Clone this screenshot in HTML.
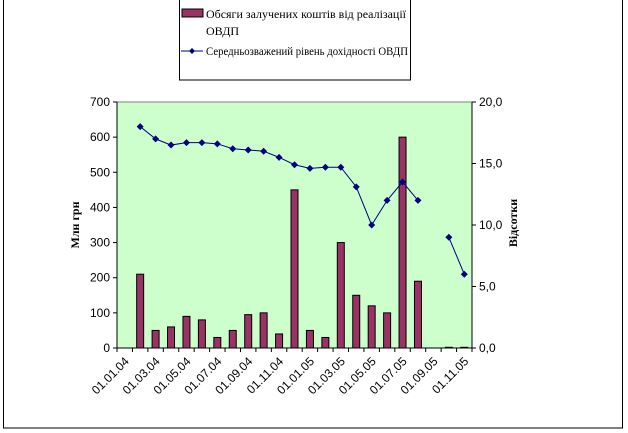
<!DOCTYPE html>
<html><head><meta charset="utf-8"><style>
html,body{margin:0;padding:0;background:#fff;}
svg{display:block;font-family:"Liberation Sans",sans-serif;}
</style></head><body>
<svg id="c" width="628" height="433" xmlns="http://www.w3.org/2000/svg">
<rect x="3.5" y="-2" width="619" height="430" fill="#fff" stroke="#000" stroke-width="1"/>
<rect x="117" y="102" width="355" height="246" fill="#ccffcc" stroke="#808080" stroke-width="1"/>
<g id="g"></g>
<rect x="179.5" y="-2" width="231" height="82" fill="#fff" stroke="#000"/>
<rect x="182" y="9" width="21" height="8" fill="#993366" stroke="#000" stroke-width="1"/>
<text x="206" y="18" font-family="Liberation Serif" font-size="12" textLength="200" lengthAdjust="spacingAndGlyphs">Обсяги залучених коштів від реалізації</text>
<text x="206" y="35" font-family="Liberation Serif" font-size="12">ОВДП</text>
<line x1="181" y1="51" x2="203" y2="51" stroke="#000080"/>
<path d="M192 48 L195 51 L192 54 L189 51Z" fill="#000080"/>
<text x="206" y="55" font-family="Liberation Serif" font-size="12" textLength="202" lengthAdjust="spacingAndGlyphs">Середньозважений рівень дохідності ОВДП</text>
<text transform="translate(79,225) rotate(-90)" text-anchor="middle" font-family="Liberation Serif" font-size="12" font-weight="bold">Млн грн</text>
<text transform="translate(517,223) rotate(-90)" text-anchor="middle" font-family="Liberation Serif" font-size="12" font-weight="bold">Відсотки</text>
</svg>
<script>
const g=document.getElementById('g');let s='';
const x0=117,w=355/23,y0=348,h=246;
const bars=[0,210,50,60,90,80,30,50,95,100,40,450,50,30,300,150,120,100,600,190,0,2,2];
const line=[null,18,17,16.5,16.7,16.7,16.6,16.2,16.1,16.0,15.5,14.9,14.6,14.7,14.7,13.1,10.0,12.0,13.5,12.0,null,9.0,6.0];
for(let i=0;i<23;i++){const cx=x0+w*(i+0.5);const bh=bars[i]/700*h;if(bars[i]>0)s+=`<rect x="${cx-3.5}" y="${y0-bh}" width="7" height="${bh}" fill="#993366" stroke="#000" stroke-width="1"/>`;}
let seg=[];const segs=[];
for(let i=0;i<23;i++){if(line[i]==null){if(seg.length)segs.push(seg);seg=[];}else seg.push([x0+w*(i+0.5),y0-line[i]/20*h]);}
if(seg.length)segs.push(seg);
for(const sg of segs){s+=`<polyline points="${sg.map(p=>p.join(',')).join(' ')}" fill="none" stroke="#000080" stroke-width="1"/>`;for(const p of sg)s+=`<path d="M${p[0]} ${p[1]-3.5} L${p[0]+3.5} ${p[1]} L${p[0]} ${p[1]+3.5} L${p[0]-3.5} ${p[1]}Z" fill="#000080"/>`;}
s+=`<line x1="117" y1="102" x2="117" y2="348" stroke="#000"/><line x1="472" y1="102" x2="472" y2="348" stroke="#000"/><line x1="117" y1="348" x2="472" y2="348" stroke="#000"/>`;
for(let v=0;v<=700;v+=100){const y=y0-v/700*h;s+=`<line x1="113" y1="${y}" x2="117" y2="${y}" stroke="#000"/><text x="110" y="${y+4}" text-anchor="end" font-size="12">${v}</text>`;}
for(let v=0;v<=20;v+=5){const y=y0-v/20*h;s+=`<line x1="472" y1="${y}" x2="476" y2="${y}" stroke="#000"/><text x="479" y="${y+4}" font-size="12">${v.toFixed(1).replace('.',',')}</text>`;}
for(let i=0;i<=23;i++){const x=x0+w*i;s+=`<line x1="${x}" y1="348" x2="${x}" y2="352" stroke="#000"/>`;}
const labs=['01.01.04','01.03.04','01.05.04','01.07.04','01.09.04','01.11.04','01.01.05','01.03.05','01.05.05','01.07.05','01.09.05','01.11.05'];
labs.forEach((l,k)=>{const cx=x0+w*(2*k+0.5)+5;s+=`<text transform="translate(${cx},362) rotate(-45)" text-anchor="end" font-size="12">${l}</text>`;});
g.innerHTML=s;
</script>
</body></html>
